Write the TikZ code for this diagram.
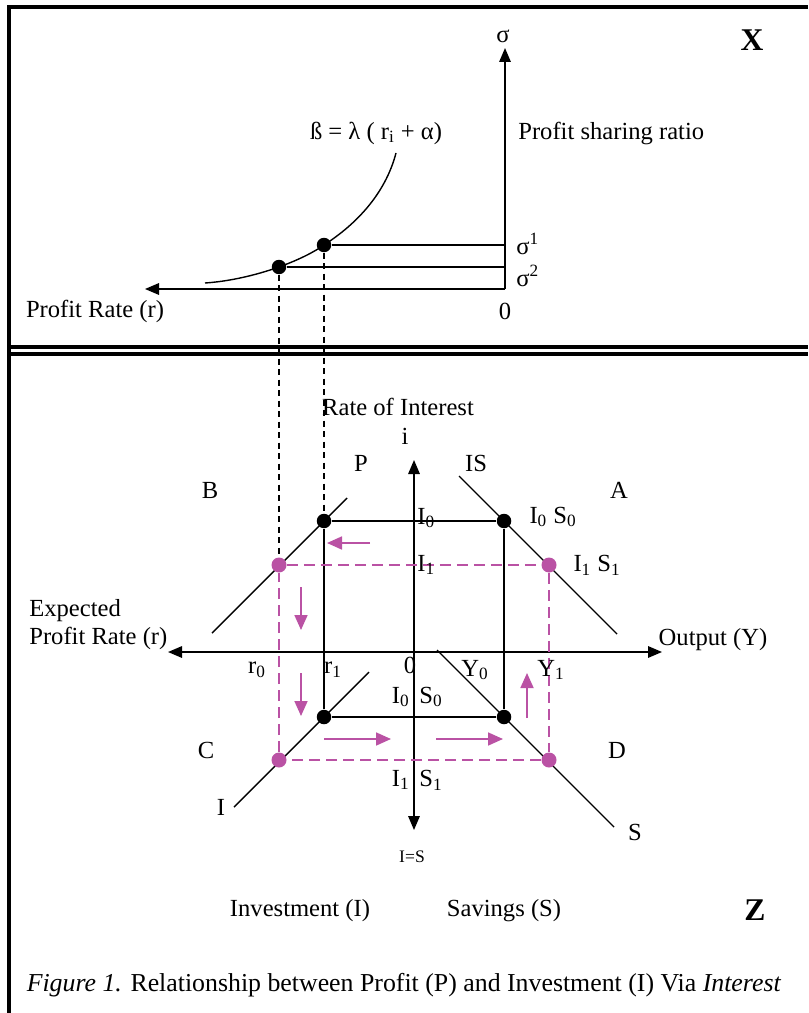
\documentclass[tikz,border=0pt]{standalone}
\usepackage{fontspec}
\setmainfont{Liberation Serif}
\usetikzlibrary{arrows.meta,positioning,backgrounds}
\definecolor{PathMagenta}{RGB}{186,82,164}
\newcommand{\lo}[1]{\textsubscript{#1}}
\newcommand{\hi}[1]{\textsuperscript{#1}}

\begin{document}
\begin{tikzpicture}[x=0.02cm,y=-0.02cm,
 lbl/.style={font=\fontsize{14}{16}\selectfont,inner sep=0pt},
 big/.style={font=\fontsize{18}{20}\selectfont\bfseries,inner sep=0pt},
 dot/.style={circle,fill=black,inner sep=0pt,minimum size=0.29cm},
 mdot/.style={circle,fill=PathMagenta,inner sep=0pt,minimum size=0.3cm},
 axis/.style={-{Triangle[length=0.28cm,width=0.23cm]},line width=0.9pt},
 curve/.style={line width=0.8pt},
 guide/.style={dash pattern=on 0.12cm off 0.09cm,line width=0.7pt},
 mguide/.style={draw=PathMagenta,dash pattern=on 0.22cm off 0.12cm,line width=0.8pt},
 flow/.style={-{Triangle[length=0.3cm,width=0.26cm]},draw=PathMagenta,line width=1pt},
 frame/.style={line width=0.07cm}]
\useasboundingbox (0,0) rectangle (808,1013);
% frame and panel split
\draw[frame] (9,1013) -- (9,7) -- (808,7);
\draw[frame] (9,347) -- (808,347);
\draw[frame] (9,354) -- (808,354);

% panel X: profit sharing ratio
\coordinate (o1) at (505,289);
\coordinate (sigtip) at (505,48);
\coordinate (rtip) at (145,289);
\draw[axis] (o1) -- (sigtip);
\draw[axis] (o1) -- (rtip);
\node[lbl] (sig) at (503,36) {σ};
\node[big] (X) at (752,40) {X};
\node[lbl,anchor=west] (psr) at (518,133) {Profit sharing ratio};
\node[lbl] (beta) at (376,133) {ß = λ ( r\lo{i} + α)};
\node[lbl] (zero1) at (505,311) {0};
\node[lbl] (prate) at (95,311) {Profit Rate (r)};
\node[dot] (s1pt) at (324,245) {};
\node[dot] (s2pt) at (279,267) {};
\coordinate (s1) at (505,245);
\coordinate (s2) at (505,267);
\draw[curve] (s1pt) -- (s1);
\draw[curve] (s2pt) -- (s2);
\node[lbl,anchor=west] (sig1) at (516,244) {σ\hi{1}};
\node[lbl,anchor=west] (sig2) at (516,276) {σ\hi{2}};
\begin{scope}[on background layer]
\draw[curve] (205,283) .. controls (250,280) and (300,262) .. (324,245)
  .. controls (355,225) and (385,195) .. (396,153);
\end{scope}

% panel Z: four quadrants
\node[dot] (b1) at (324,521) {};
\node[dot] (b2) at (504,521) {};
\node[dot] (b3) at (324,717) {};
\node[dot] (b4) at (504,717) {};
\node[mdot] (m1) at (279,565) {};
\node[mdot] (m2) at (549,565) {};
\node[mdot] (m3) at (279,760) {};
\node[mdot] (m4) at (549,760) {};
\coordinate (o2) at (414,652);
\coordinate (ytip) at (662,652);
\coordinate (rtip2) at (168,652);
\coordinate (itip) at (414,460);
\coordinate (istip) at (414,830);
\draw[axis] (o2) -- (ytip);
\draw[axis] (o2) -- (rtip2);
\draw[axis] (o2) -- (itip);
\draw[axis] (o2) -- (istip);
\draw[guide] (s1pt) -- (b1);
\draw[guide] (s2pt) -- (m1);
\draw[curve] (b1) -- (b2) -- (b4) -- (b3) -- (b1);
\draw[mguide] (m1) -- (m2) -- (m4) -- (m3) -- (m1);
\coordinate (Ptop) at (347,498);
\coordinate (Pbot) at (212,633);
\coordinate (IStop) at (459,476);
\coordinate (ISbot) at (617,634);
\coordinate (Itop) at (369,672);
\coordinate (Ibot) at (234,807);
\coordinate (Stop) at (437,650);
\coordinate (Sbot) at (614,827);
\begin{scope}[on background layer]
\draw[curve] (Ptop) -- (Pbot);
\draw[curve] (IStop) -- (ISbot);
\draw[curve] (Itop) -- (Ibot);
\draw[curve] (Stop) -- (Sbot);
\end{scope}
\draw[flow] (370,543) -- (327,543);
\draw[flow] (301,587) -- (301,630);
\draw[flow] (301,673) -- (301,716);
\draw[flow] (324,739) -- (391,739);
\draw[flow] (436,739) -- (503,739);
\draw[flow] (527,718) -- (527,673);

% labels
\node[lbl] (roi) at (398,407) {Rate of Interest};
\node[lbl] (ilbl) at (405,436) {i};
\node[lbl] (Plbl) at (361,463) {P};
\node[lbl] (ISlbl) at (476,463) {IS};
\node[lbl] (Blbl) at (210,490) {B};
\node[lbl] (Albl) at (619,490) {A};
\node[lbl,anchor=west] (I0a) at (417,518) {I\lo{0}};
\node[lbl] (I0S0a) at (553,517) {I\lo{0} S\lo{0}};
\node[lbl,anchor=west] (I1a) at (417,565) {I\lo{1}};
\node[lbl] (I1S1a) at (597,565) {I\lo{1} S\lo{1}};
\node[lbl,anchor=west,align=left] (eprate) at (29,625) {Expected\\Profit Rate (r)};
\node[lbl] (outY) at (713,640) {Output (Y)};
\node[lbl] (r0) at (257,670) {r\lo{0}};
\node[lbl] (r1) at (333,670) {r\lo{1}};
\node[lbl] (zero2) at (410,665) {0};
\node[lbl] (Y0) at (475,670) {Y\lo{0}};
\node[lbl] (Y1) at (551,670) {Y\lo{1}};
\node[lbl,anchor=east] (I0b) at (410,697) {I\lo{0}};
\node[lbl,anchor=west] (S0b) at (419,697) {S\lo{0}};
\node[lbl] (Clbl) at (206,750) {C};
\node[lbl] (Dlbl) at (617,750) {D};
\node[lbl,anchor=east] (I1b) at (410,780) {I\lo{1}};
\node[lbl,anchor=west] (S1b) at (419,780) {S\lo{1}};
\node[lbl] (Ilbl) at (221,807) {I};
\node[lbl] (Slbl) at (635,832) {S};
\node[font=\fontsize{10}{12}\selectfont,inner sep=0pt] (ISeq) at (412,857) {I=S};
\node[lbl] (inv) at (300,911) {Investment (I)};
\node[lbl] (sav) at (504,911) {Savings (S)};
\node[big] (Z) at (755,910) {Z};
\node[font=\fontsize{14.7}{17}\selectfont,inner sep=0pt] (cap) at (404,985) {\textit{Figure 1.} Relationship between Profit (P) and Investment (I) Via \textit{Interest}};
\end{tikzpicture}
\end{document}
